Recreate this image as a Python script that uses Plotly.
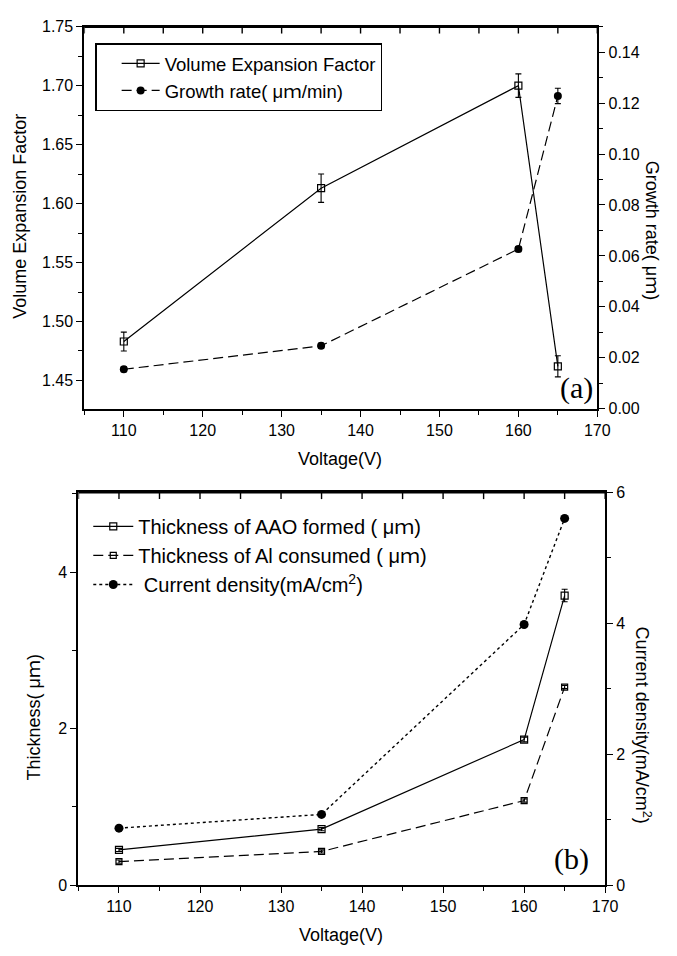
import plotly.graph_objects as go

# ---- data ----
voltage = [110, 135, 160, 165]
vef = [1.483, 1.613, 1.700, 1.462]
vef_err = [0.008, 0.012, 0.010, 0.009]
growth = [0.0155, 0.0247, 0.0627, 0.1228]
growth_err = [0.001, 0.001, 0.001, 0.003]
aao = [0.45, 0.715, 1.86, 3.70]
aao_err = [0.02, 0.02, 0.03, 0.08]
al = [0.30, 0.43, 1.08, 2.53]
al_err = [0.02, 0.02, 0.02, 0.02]
cd = [0.87, 1.08, 3.98, 5.60]

x_ticks = [110, 120, 130, 140, 150, 160, 170]
x_all_ticks = list(range(105, 171, 5))   # major + minor tick positions of the top frame

W, H = 677, 956
FONT = "Liberation Sans, Arial, Noto Sans CJK SC"
DASH = "10px,5px"

def px(v):
    return v / W

def py(v):
    return 1 - v / H

fig = go.Figure()

# (a)
fig.add_trace(go.Scatter(
    x=voltage, y=vef, name="Volume Expansion Factor",
    mode="lines+markers", xaxis="x", yaxis="y", legend="legend",
    line=dict(color="black", width=1.2),
    marker=dict(symbol="square-open", size=7, color="black", line=dict(width=1.2)),
    error_y=dict(type="data", array=vef_err, color="black", thickness=1.1, width=3),
))
fig.add_trace(go.Scatter(
    x=voltage, y=growth, name="Growth rate( μｍ/min)",
    mode="lines+markers", xaxis="x", yaxis="y2", legend="legend",
    line=dict(color="black", width=1.2, dash=DASH),
    marker=dict(symbol="circle", size=8, color="black"),
    error_y=dict(type="data", array=growth_err, color="black", thickness=1.1, width=3),
))

# (b)
fig.add_trace(go.Scatter(
    x=voltage, y=aao, name="Thickness of AAO formed ( μｍ)",
    mode="lines+markers", xaxis="x3", yaxis="y3", legend="legend2",
    line=dict(color="black", width=1.2),
    marker=dict(symbol="square-open", size=7, color="black", line=dict(width=1.2)),
    error_y=dict(type="data", array=aao_err, color="black", thickness=1.1, width=3),
))
fig.add_trace(go.Scatter(
    x=voltage, y=al, name="Thickness of Al consumed ( μｍ)",
    mode="lines+markers", xaxis="x3", yaxis="y3", legend="legend2",
    line=dict(color="black", width=1.2, dash=DASH),
    marker=dict(symbol="square-open", size=6, color="black", line=dict(width=1.2)),
    error_y=dict(type="data", array=al_err, color="black", thickness=1.1, width=3),
))
fig.add_trace(go.Scatter(
    x=voltage, y=cd, name=" Current density(mA/cm<sup>2</sup>)",
    mode="lines+markers", xaxis="x3", yaxis="y4", legend="legend2",
    line=dict(color="black", width=1.4, dash="3px,3px"),
    marker=dict(symbol="circle", size=9, color="black"),
))

tickfont = dict(family=FONT, size=16, color="black")
common = dict(showline=True, linecolor="black", linewidth=2, showgrid=False,
              zeroline=False, tickfont=tickfont, tickcolor="black", tickwidth=1.4)

dom_a_x = [px(86), px(609)]
dom_a_y = [py(408), py(19)]
dom_b_x = [px(80), px(617)]
dom_b_y = [py(893), py(493)]

def xbottom(domain, anchor):
    return dict(domain=domain, anchor=anchor, range=[105, 170], tickvals=x_ticks,
                ticks="outside", ticklen=6, mirror=True,
                minor=dict(ticks="outside", ticklen=4, dtick=5, tick0=105, tickcolor="black", tickwidth=1.4),
                **common)

fig.update_layout(
    width=W, height=H,
    margin=dict(l=0, r=0, t=0, b=0),
    paper_bgcolor="white", plot_bgcolor="rgba(0,0,0,0)",
    font=dict(family=FONT, color="black"),
    xaxis=xbottom(dom_a_x, "y"),
    yaxis=dict(domain=dom_a_y, anchor="x", range=[1.426, 1.75], dtick=0.05, tick0=1.45,
               tickformat=".2f", ticks="outside", ticklen=6,
               minor=dict(ticks="outside", ticklen=4, dtick=0.025, tick0=1.45, tickcolor="black", tickwidth=1.4),
               **common),
    yaxis2=dict(overlaying="y", anchor="x", side="right", range=[0, 0.15], dtick=0.02,
                tickformat=".2f", ticks="outside", ticklen=6,
                minor=dict(ticks="outside", ticklen=4, dtick=0.01, tickcolor="black", tickwidth=1.4),
                **common),
    xaxis3=xbottom(dom_b_x, "y3"),
    yaxis3=dict(domain=dom_b_y, anchor="x3", range=[0, 5.02], dtick=2,
                ticks="outside", ticklen=6,
                minor=dict(ticks="outside", ticklen=4, dtick=1, tickcolor="black", tickwidth=1.4),
                **common),
    yaxis4=dict(overlaying="y3", anchor="x3", side="right", range=[0, 6], dtick=2,
                ticks="outside", ticklen=6,
                minor=dict(ticks="outside", ticklen=4, dtick=1, tickcolor="black", tickwidth=1.4),
                **common),
    legend=dict(x=px(97), y=py(36), xanchor="left", yanchor="top",
                bgcolor="white", bordercolor="black", borderwidth=1.5,
                font=dict(family=FONT, size=18.5, color="black"),
                indentation=20, itemwidth=38, tracegroupgap=0),
    legend2=dict(x=px(90), y=py(508), xanchor="left", yanchor="top",
                 bgcolor="rgba(0,0,0,0)", borderwidth=0,
                 font=dict(family=FONT, size=20, color="black"),
                 itemwidth=40, tracegroupgap=0),
    showlegend=True,
)

# top frame line (paper coordinates of each panel's top edge) and inward top ticks
shapes = []
for xr, xdom, ydom in (("x", dom_a_x, dom_a_y), ("x3", dom_b_x, dom_b_y)):
    shapes.append(dict(type="line", xref="paper", yref="paper",
                       x0=xdom[0], x1=xdom[1], y0=ydom[1], y1=ydom[1],
                       line=dict(color="black", width=2.5), layer="above"))
    for t in x_all_ticks:
        shapes.append(dict(type="line", xref=xr, yref="paper",
                           x0=t, x1=t, y0=ydom[1], y1=ydom[1] - 7 / H,
                           line=dict(color="black", width=1.4), layer="above"))
fig.update_layout(shapes=shapes)

ann_font = dict(family=FONT, size=18, color="black")
annotations = [
    dict(text="Volume Expansion Factor", x=px(21), y=py(212), textangle=-90, font=ann_font),
    dict(text="Growth rate( μｍ)", x=px(665), y=py(226), textangle=90, font=ann_font),
    dict(text="Voltage(V)", x=px(347), y=py(459), font=ann_font),
    dict(text="(a)", x=px(588), y=py(387), font=dict(family="Liberation Serif, Times New Roman", size=30, color="black")),
    dict(text="Thickness( μｍ)", x=px(35), y=py(722), textangle=-90, font=ann_font),
    dict(text="Current density(mA/cm<sup>2</sup>)", x=px(656), y=py(730), textangle=90, font=ann_font),
    dict(text="Voltage(V)", x=px(348), y=py(944), font=ann_font),
    dict(text="(b)", x=px(583), y=py(866), font=dict(family="Liberation Serif, Times New Roman", size=30, color="black")),
]
for a in annotations:
    a.update(xref="paper", yref="paper", xanchor="center", yanchor="middle", showarrow=False)
fig.update_layout(annotations=annotations)

fig.write_html("out.html", config={"displayModeBar": False},
               post_script="document.body.style.margin='0px';")
